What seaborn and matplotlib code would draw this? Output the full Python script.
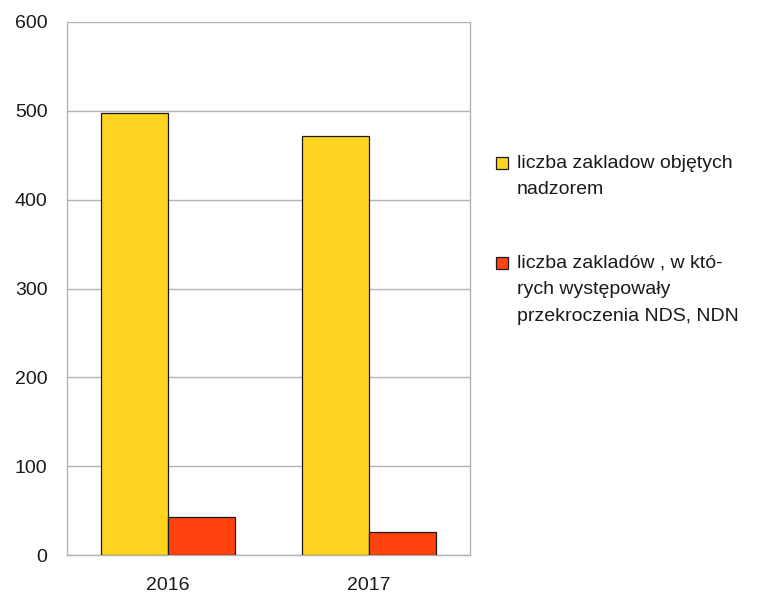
import matplotlib
matplotlib.use("Agg")
import matplotlib.pyplot as plt
import pandas as pd
import seaborn as sns
from matplotlib.patches import Rectangle

# values
years = ["2016", "2017"]
series_names = [
    "liczba zakladow objętych\nnadzorem",
    "liczba zakladów , w któ-\nrych występowały\nprzekroczenia NDS, NDN",
]
objete_nadzorem = [497, 472]
z_przekroczeniami = [43, 26]
colors = ["#FFD320", "#FF420E"]

df = pd.DataFrame({
    "rok": years * 2,
    "seria": [series_names[0]] * 2 + [series_names[1]] * 2,
    "liczba": objete_nadzorem + z_przekroczeniami,
})

sns.set_style("white")
plt.rcParams["font.family"] = ["Liberation Sans", "DejaVu Sans"]

fig = plt.figure(figsize=(7.6, 5.95), dpi=100)
ax = fig.add_axes([67 / 760, 40 / 595, 403 / 760, 533 / 595])

sns.barplot(data=df, x="rok", y="liczba", hue="seria", palette=colors,
            saturation=1, width=0.667, edgecolor="#1a1a1a", linewidth=0.9,
            ax=ax, legend=False, zorder=3)

grid_c = "#b3b3b3"
ax.set_ylim(0, 600)
ax.set_xlim(-0.5, 1.5)
ax.set_yticks(range(0, 601, 100))
ax.yaxis.grid(True, color=grid_c, linewidth=1, zorder=0)
ax.set_xlabel("")
ax.set_ylabel("")
for side in ["left", "bottom", "right"]:
    ax.spines[side].set_color(grid_c)
    ax.spines[side].set_linewidth(1)
ax.spines["top"].set_visible(False)

ax.tick_params(axis="y", length=10, color=grid_c, labelsize=14, pad=4,
               labelcolor="#1a1a1a")
ax.tick_params(axis="x", which="major", length=0, labelsize=14, pad=16,
               labelcolor="#1a1a1a")
ax.set_xticks([-0.5, 0.5, 1.5], minor=True)
ax.tick_params(axis="x", which="minor", length=12, color=grid_c)

# legend drawn beside the plot, square markers aligned to the first line
legend_tops = [163, 263]
for name, col, yc in zip(series_names, colors, legend_tops):
    fig.patches.append(Rectangle((496 / 760, 1 - (yc + 6) / 595), 12 / 760, 12 / 595,
                                 transform=fig.transFigure, facecolor=col,
                                 edgecolor="#1a1a1a", linewidth=0.9))
    fig.text(517 / 760, 1 - (yc - 8) / 595, name, ha="left", va="top",
             fontsize=14, linespacing=1.72, color="#1a1a1a")

fig.savefig("out.png", dpi=100)
